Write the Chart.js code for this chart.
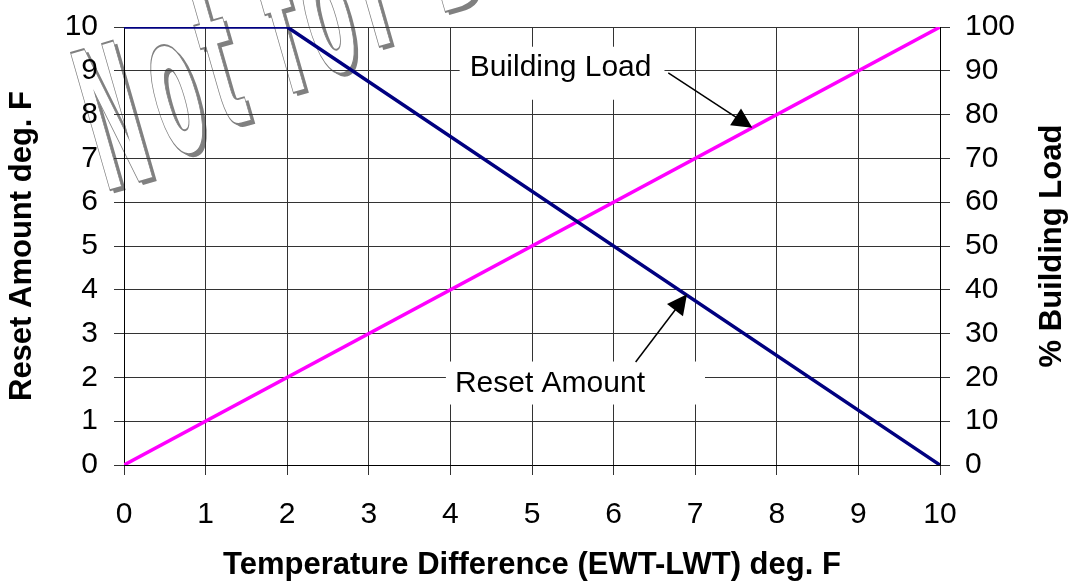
<!DOCTYPE html>
<html>
<head>
<meta charset="utf-8">
<script src="https://cdn.jsdelivr.net/npm/chart.js@4/dist/chart.umd.min.js"></script>
<style>
  html, body { margin: 0; padding: 0; background: #fff; }
  #wrap { width: 1070px; height: 581px; position: relative; }
</style>
</head>
<body>
<div id="wrap"><canvas id="myChart"></canvas></div>
<script>
// temperature difference (x) and the two curves
const resetX = [0, 2, 10]
const resetY = [10, 10, 0]        // Reset Amount deg. F (left axis)
const loadX = [0, 10]
const loadY = [0, 100]            // % Building Load (right axis)

const xTitle = 'Temperature Difference (EWT-LWT) deg. F'
const yTitle = 'Reset Amount deg. F'
const y2Title = '% Building Load'

// callouts: text, where the text sits, where the arrow points (data units)
const callouts = [
  { text: 'Building Load', axis: 'y2', at: [5.35, 90.7], from: [6.67, 89.5], to: [7.7, 77], pad: [10, 21, 13, 32] },
  { text: 'Reset Amount', axis: 'y', at: [5.22, 1.86], from: [6.27, 2.35], to: [6.9, 3.9], pad: [9, 22, 60, 21] }
]

Chart.defaults.font.family = '"Liberation Sans", Arial, sans-serif'
Chart.defaults.color = '#000'

const tickFont = { size: 30 }
const titleFont = { size: 31, weight: 'bold', lineHeight: 1 }
const gridColor = '#333'

// "Not for Distribution" stamp, drawn behind the grid
const watermark = {
  id: 'watermark',
  beforeDraw(chart) {
    const ctx = chart.ctx
    ctx.save()
    ctx.font = 'bold 80px "DejaVu Sans", sans-serif'
    const text = 'Not for Distribution'
    const ang = -28 * Math.PI / 180
    let x = 104, y = 192
    for (const ch of text) {
      const w = ctx.measureText(ch).width * 1.1
      if (ch !== ' ') {
        // shadow
        ctx.save()
        ctx.translate(x + 4, y + 3)
        ctx.rotate(-0.28)
        ctx.scale(0.85, 2.45)
        ctx.fillStyle = '#808080'
        ctx.fillText(ch, 0, 0)
        ctx.restore()
        // face
        ctx.save()
        ctx.translate(x, y)
        ctx.rotate(-0.28)
        ctx.scale(0.85, 2.45)
        ctx.fillStyle = '#fff'
        ctx.fillText(ch, 0, 0)
        ctx.lineWidth = 0.8
        ctx.strokeStyle = '#808080'
        ctx.strokeText(ch, 0, 0)
        ctx.restore()
      }
      x += w * Math.cos(ang)
      y += w * Math.sin(ang)
    }
    ctx.restore()
  }
}

const calloutPlugin = {
  id: 'callouts',
  afterDatasetsDraw(chart) {
    const ctx = chart.ctx
    const xs = chart.scales.x
    ctx.save()
    callouts.forEach(c => {
      const ys = chart.scales[c.axis]
      ctx.font = '30px "Liberation Sans", Arial, sans-serif'
      const tw = ctx.measureText(c.text).width
      const cx = xs.getPixelForValue(c.at[0])
      const cy = ys.getPixelForValue(c.at[1])
      // white box that cuts the grid
      ctx.fillStyle = '#fff'
      ctx.fillRect(cx - tw / 2 - c.pad[0], cy - c.pad[1], tw + c.pad[0] + c.pad[2], c.pad[1] + c.pad[3])
      ctx.fillStyle = '#000'
      ctx.textAlign = 'center'
      ctx.textBaseline = 'middle'
      ctx.fillText(c.text, cx, cy)
      // arrow
      const x1 = xs.getPixelForValue(c.from[0]), y1 = ys.getPixelForValue(c.from[1])
      const x2 = xs.getPixelForValue(c.to[0]), y2 = ys.getPixelForValue(c.to[1])
      const a = Math.atan2(y2 - y1, x2 - x1)
      const len = 20, half = 10
      ctx.strokeStyle = '#000'
      ctx.lineWidth = 1.5
      ctx.beginPath()
      ctx.moveTo(x1, y1)
      ctx.lineTo(x2 - Math.cos(a) * len * 0.8, y2 - Math.sin(a) * len * 0.8)
      ctx.stroke()
      ctx.beginPath()
      ctx.moveTo(x2, y2)
      ctx.lineTo(x2 - Math.cos(a) * len - Math.sin(a) * half, y2 - Math.sin(a) * len + Math.cos(a) * half)
      ctx.lineTo(x2 - Math.cos(a) * len + Math.sin(a) * half, y2 - Math.sin(a) * len - Math.cos(a) * half)
      ctx.closePath()
      ctx.fill()
    })

    // right axis title reads bottom-to-top, like the left one
    const y2 = chart.scales.y2
    ctx.font = 'bold 31px "Liberation Sans", Arial, sans-serif'
    ctx.fillStyle = '#000'
    ctx.textAlign = 'center'
    ctx.textBaseline = 'middle'
    ctx.translate(y2.right - 18, (y2.top + y2.bottom) / 2)
    ctx.rotate(-Math.PI / 2)
    ctx.fillText(y2Title, 0, 0)
    ctx.restore()
  }
}

// keep the tick-label padding from pushing the plot area down
function fitVertical(width) {
  return scale => {
    scale.width = width
    scale.paddingTop = 0
    scale.paddingBottom = 0
  }
}

const canvas = document.querySelector('#myChart')
const myChart = new Chart(canvas.getContext('2d'), {
  type: 'line',
  data: {
    datasets: [
      {
        label: 'Reset Amount',
        data: resetX.map((x, i) => ({ x, y: resetY[i] })),
        yAxisID: 'y',
        borderColor: '#000080',
        borderWidth: 3.5,
        pointRadius: 0,
        tension: 0
      },
      {
        label: 'Building Load',
        data: loadX.map((x, i) => ({ x, y: loadY[i] })),
        yAxisID: 'y2',
        borderColor: '#ff00ff',
        borderWidth: 3.5,
        pointRadius: 0,
        tension: 0
      }
    ]
  },
  options: {
    responsive: true,
    maintainAspectRatio: false,
    animation: false,
    layout: { padding: { top: 27 } },
    plugins: { legend: { display: false }, tooltip: { enabled: false } },
    scales: {
      x: {
        type: 'linear',
        min: 0, max: 10,
        ticks: { stepSize: 1, font: tickFont, padding: 22, maxRotation: 0 },
        grid: { color: gridColor, tickLength: 10 },
        border: { color: '#000' },
        title: { display: true, text: xTitle, font: titleFont, padding: { top: 0, bottom: 0 } },
        afterFit(scale) { scale.height = 116 }
      },
      y: {
        position: 'left',
        min: 0, max: 10,
        ticks: { stepSize: 1, font: tickFont, padding: 16 },
        grid: { color: gridColor, tickLength: 10 },
        border: { color: '#000' },
        title: { display: true, text: yTitle, font: titleFont, padding: { top: 7, bottom: 0 } },
        afterFit: fitVertical(124)
      },
      y2: {
        position: 'right',
        min: 0, max: 100,
        ticks: { stepSize: 10, font: tickFont, padding: 15 },
        grid: { drawOnChartArea: false, color: gridColor, tickLength: 10 },
        border: { color: '#000' },
        title: { display: false },
        afterFit: fitVertical(130)
      }
    }
  },
  plugins: [watermark, calloutPlugin]
})
</script>
</body>
</html>
